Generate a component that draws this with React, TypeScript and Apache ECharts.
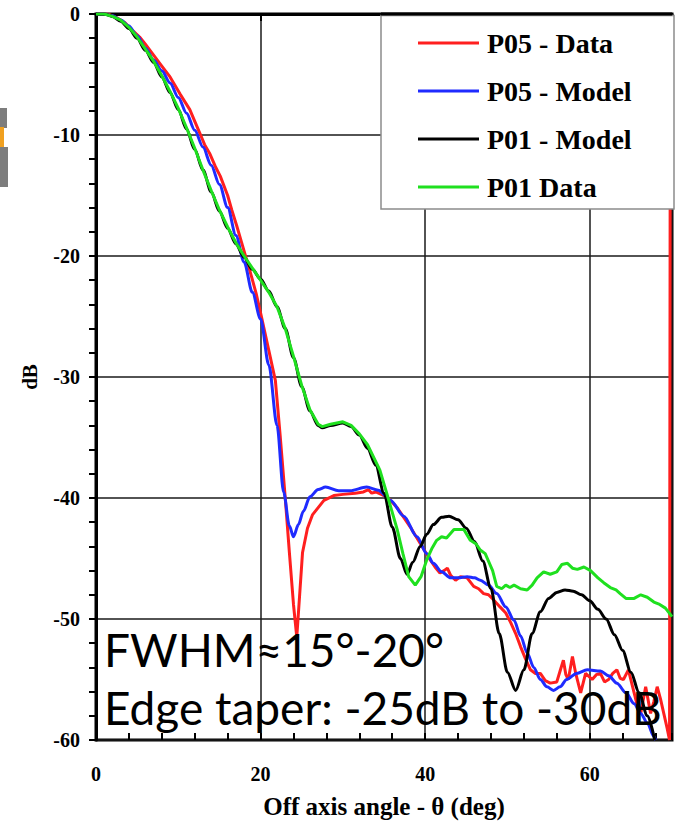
import React, { useEffect, useRef } from "react";
import * as echarts from "echarts";

// ---------- data (angle in deg, level in dB) ----------
const SERIES_NAMES = ["P05 - Data", "P05 - Model", "P01 - Model", "P01 Data"];
const SERIES_COLORS = ["#ff1f1f", "#1f2bff", "#000000", "#1fe01f"];

const P05_DATA: [number, number][] = [
  [0, 0], [1.5, 0], [2.5, -0.3], [3.5, -0.7], [4.5, -1.4], [5.3, -1.9], [6, -2.5], [7, -3.4], [8, -4.3],
  [9, -5.2], [10.2, -6.6], [11.4, -7.9], [12.65, -9.9], [13.2, -10.8], [13.8, -11.5], [14.5, -12.6],
  [15.1, -13.4], [16, -15.0], [16.5, -16.2], [17.1, -17.5], [17.7, -18.9], [18.3, -20.3], [18.9, -21.7],
  [19.5, -23.2], [20.1, -25.0], [21.0, -27.8], [21.8, -30.3], [22.4, -35.0], [23.0, -40.0], [23.5, -44.5],
  [24.0, -48.8], [24.4, -51.5], [24.8, -47.5], [25.1, -44.5], [25.7, -42.5], [26.3, -41.4], [27.0, -40.8],
  [27.7, -40.2], [28.9, -39.8], [30, -39.7], [31.5, -39.6], [32.5, -39.5], [33.1, -39.3], [33.5, -39.6],
  [34, -39.5], [35.0, -39.8], [35.8, -40.2], [36.6, -40.8], [37.4, -41.6], [38.2, -42.4], [39.0, -43.3],
  [39.8, -44.2], [40.5, -45.0], [41.2, -45.7], [41.8, -46.2], [42.3, -46.0], [42.7, -45.8], [43.1, -46.4],
  [43.7, -46.8], [44.3, -46.5], [45.1, -46.6], [45.9, -47.3], [46.5, -47.5], [47.1, -47.9], [47.7, -48.0],
  [48.3, -48.4], [49.1, -49.0], [49.8, -49.5], [50.4, -50.3], [51.0, -51.2], [51.6, -52.3], [52.2, -53.3],
  [52.8, -54.2], [53.4, -54.5], [54.0, -54.5], [54.6, -55.1], [55.2, -55.3], [56.0, -55.2], [56.4, -54.3],
  [56.8, -53.4], [57.1, -54.6], [57.4, -55.0], [57.9, -53.1], [58.3, -54.5], [58.9, -56.1], [59.5, -54.5],
  [60.3, -55.0], [60.8, -54.6], [61.3, -54.5], [61.8, -55.2], [62.3, -55.0], [62.8, -54.5], [63.3, -54.2],
  [63.7, -54.9], [64.1, -55.0], [64.7, -54.2], [65.4, -56.1], [65.8, -57.2], [66.2, -57.8], [66.8, -55.6],
  [67.4, -57.8], [67.8, -56.8], [68.2, -55.6], [68.6, -56.6], [69.0, -57.8], [69.4, -59.0], [69.7, -60],
  [69.8, 0],
];

const P05_MODEL: [number, number][] = [
  [0, 0], [1, 0], [2, -0.15], [3, -0.5], [4, -1.0], [5, -1.8], [6, -2.8], [7, -3.8], [8, -4.7], [9, -5.7],
  [10, -6.9], [11, -8.2], [12, -9.6], [13, -11.0], [14, -12.5], [15, -14.1], [16, -16.0], [17, -18.3],
  [18, -20.5], [19, -23.0], [20, -25.2], [21, -29.0], [22, -34.0], [22.8, -39.5], [23.5, -42.3], [24.0, -43.2],
  [24.6, -42.2], [25.2, -41.1], [26.0, -39.9], [27.0, -39.3], [27.9, -39.1], [29.5, -39.4], [30.9, -39.4],
  [32.9, -39.1], [34.3, -39.35], [35.8, -40.2], [37.4, -41.5], [39.0, -43.2], [40.2, -44.6], [41.0, -45.4],
  [42, -46.1], [43.1, -46.6], [44, -46.6], [45.1, -46.5], [46, -46.6], [46.7, -46.8], [47.7, -47.2],
  [48.7, -47.9], [49.8, -49.0], [50.8, -50.1], [51.6, -51.4], [52.4, -52.8], [53.2, -54.0], [54.0, -55.0],
  [54.8, -55.6], [55.6, -55.9], [56.4, -55.6], [57.2, -55.0], [58.4, -54.5], [59.7, -54.2], [61.3, -54.3],
  [62.3, -54.7], [63.3, -55.3], [64.4, -56.1], [65.4, -57.0], [66.2, -57.8], [67.0, -58.6], [67.8, -59.7],
  [68.0, -60],
];

const P01_MODEL: [number, number][] = [
  [0, 0], [1, 0], [2, -0.2], [3, -0.6], [4, -1.2], [5, -2.0], [6, -3.0], [7, -4.0], [8, -5.2], [9, -6.5],
  [10, -7.9], [11, -9.5], [12, -11.2], [13, -12.9], [14, -14.7], [15, -16.3], [16, -17.7], [17, -19.0],
  [18, -20.1], [19, -21.1], [20, -21.9], [21, -22.9], [22, -24.2], [23, -26.0], [24, -28.4], [25, -30.8],
  [26, -32.8], [27, -34.0], [27.5, -34.2], [28.5, -34.0], [30, -33.8], [31, -34.1], [32, -34.8], [33, -35.9],
  [34, -37.3], [35, -39.6], [36, -42.4], [37, -45.0], [37.8, -46.3], [38.5, -45.3], [39.4, -44.0],
  [40.2, -43.0], [41, -42.2], [42, -41.6], [42.9, -41.5], [44, -41.8], [45, -42.5], [46, -43.6], [47, -45.2],
  [48, -47.5], [49, -51.2], [50, -54.4], [51, -55.9], [52, -54.2], [53, -51.2], [54, -49.4], [55, -48.3],
  [56, -47.8], [57, -47.6], [58, -47.7], [59, -48.0], [60, -48.5], [61, -49.2], [62, -50.0], [63, -51.3],
  [64, -52.6], [65, -54.4], [66, -56.1], [67, -58.0], [67.9, -60],
];

const P01_DATA: [number, number][] = [
  [0, 0], [1, 0], [2, -0.2], [3, -0.5], [4, -1.1], [5, -1.9], [6, -2.9], [7, -3.9], [8, -5.1], [9, -6.4],
  [10, -7.8], [11, -9.4], [12, -11.1], [13, -12.9], [14, -14.6], [15, -16.2], [16, -17.6], [17, -18.9],
  [18, -20.0], [19, -21.0], [20, -22.0], [21, -23.0], [22, -24.2], [23, -26.0], [24, -28.3], [25, -30.7],
  [26, -32.7], [27, -33.9], [27.5, -34.1], [28.5, -33.9], [30, -33.7], [31, -34.0], [32, -34.7], [33, -35.6],
  [34, -37.0], [34.5, -37.7], [35.5, -40.0], [36.6, -42.6], [37.3, -44.6], [38, -46.5], [38.8, -47.2],
  [39.5, -46.5], [40.2, -45.1], [40.8, -44.2], [41.4, -43.5], [42, -43.2], [42.6, -43.3], [43.5, -42.6],
  [44.7, -42.6], [45.5, -43.5], [46.2, -43.8], [46.7, -44.3], [47.3, -44.6], [48.2, -46.0], [48.7, -47.3],
  [49.3, -47.5], [49.8, -47.2], [50.3, -47.4], [50.8, -47.2], [51.6, -47.5], [52.4, -47.6], [53.0, -47.2],
  [53.6, -46.6], [54.4, -46.1], [55.2, -46.3], [56, -46.1], [56.6, -45.5], [57.3, -45.4], [57.9, -45.8],
  [58.5, -45.9], [59.3, -45.7], [60.1, -46.0], [61, -46.6], [61.7, -47.0], [62.5, -47.4], [63.2, -47.6],
  [63.7, -47.9], [64.4, -48.3], [65.4, -48.3], [66.2, -48.0], [67, -48.2], [67.8, -48.6], [68.5, -48.8],
  [69.2, -49.1], [70, -49.8],
];

const SERIES_DATA = [P05_DATA, P05_MODEL, P01_MODEL, P01_DATA];
const SERIES_SMOOTH = [false, true, true, false];

const X_AXIS_TITLE = "Off axis angle - \u03b8 (deg)";
const Y_AXIS_TITLE = "dB";
const NOTE_LINES = ["FWHM\u224815\u00b0-20\u00b0", "Edge taper: -25dB to -30dB"];

const SERIF = "'Liberation Serif', 'Times New Roman', serif";
const NOTE_FONT = "46px Lato, 'Open Sans', sans-serif";

export default function App() {
  const ref = useRef<HTMLDivElement>(null);

  useEffect(() => {
    if (!ref.current) return;
    const chart = echarts.init(ref.current, undefined, { renderer: "svg" });

    const option: any = {
      animation: false,
      backgroundColor: "#ffffff",
      grid: {
        left: 96,
        top: 14,
        width: 576,
        height: 726,
        show: true,
        borderColor: "#000",
        borderWidth: 3,
        backgroundColor: "transparent",
      },
      xAxis: [
        {
          type: "value",
          min: 0,
          max: 70,
          interval: 20,
          name: X_AXIS_TITLE,
          nameLocation: "middle",
          nameGap: 54,
          nameTextStyle: { fontFamily: SERIF, fontWeight: "bold", fontSize: 25, color: "#000" },
          axisLine: { show: true, lineStyle: { color: "#000", width: 3 } },
          axisTick: { show: true, inside: false, length: 7, lineStyle: { color: "#000", width: 2 } },
          axisLabel: {
            show: true,
            margin: 24,
            showMaxLabel: false,
            fontFamily: SERIF,
            fontWeight: "bold",
            fontSize: 20,
            color: "#000",
          },
          splitLine: { show: true, lineStyle: { color: "#1a1a1a", width: 1.5 } },
        },
        {
          type: "value",
          min: 0,
          max: 70,
          interval: 4,
          position: "bottom",
          axisLine: { show: false },
          axisTick: { show: true, inside: true, length: 7, lineStyle: { color: "#000", width: 2 } },
          axisLabel: { show: false },
          splitLine: { show: false },
        },
      ],
      yAxis: {
        type: "value",
        min: -60,
        max: 0,
        interval: 10,
        name: Y_AXIS_TITLE,
        nameLocation: "middle",
        nameGap: 56,
        nameRotate: 90,
        nameTextStyle: { fontFamily: SERIF, fontWeight: "bold", fontSize: 21, color: "#000" },
        axisLine: { show: true, lineStyle: { color: "#000", width: 3 } },
        axisTick: { show: true, inside: false, length: 7, lineStyle: { color: "#000", width: 2 } },
        minorTick: { show: true, splitNumber: 5, length: 7, lineStyle: { color: "#000", width: 2 } },
        axisLabel: {
          margin: 16,
          fontFamily: SERIF,
          fontWeight: "bold",
          fontSize: 20,
          color: "#000",
        },
        splitLine: { show: true, lineStyle: { color: "#1a1a1a", width: 1.5 } },
      },
      legend: {
        data: SERIES_NAMES,
        orient: "vertical",
        left: 418,
        top: 29,
        padding: 0,
        icon: "rect",
        itemWidth: 61,
        itemHeight: 3,
        itemGap: 20,
        z: 20,
        textStyle: {
          fontFamily: SERIF,
          fontWeight: "bold",
          fontSize: 28,
          lineHeight: 28,
          color: "#000",
          padding: [0, 0, 0, 3],
        },
      },
      graphic: [
        {
          type: "rect",
          z: 15,
          shape: { x: 381, y: 15.5, width: 293, height: 193.5 },
          style: { fill: "#ffffff", stroke: "#8c8c8c", lineWidth: 1.5 },
        },
        {
          type: "line",
          z: 16,
          shape: { x1: 381, y1: 14, x2: 672, y2: 14 },
          style: { stroke: "#000", lineWidth: 3 },
        },
        { type: "rect", z: 15, shape: { x: 0, y: 108, width: 7, height: 20 }, style: { fill: "#7d7d7d" } },
        { type: "rect", z: 15, shape: { x: 0, y: 127, width: 4, height: 20 }, style: { fill: "#f0a020" } },
        { type: "rect", z: 15, shape: { x: 0, y: 147, width: 8, height: 40 }, style: { fill: "#7d7d7d" } },
        {
          type: "text",
          z: 30,
          x: 104,
          y: 649,
          style: { text: NOTE_LINES[0], font: NOTE_FONT, fill: "#000", verticalAlign: "middle", align: "left" },
        },
        {
          type: "text",
          z: 30,
          x: 104,
          y: 707,
          style: { text: NOTE_LINES[1], font: NOTE_FONT, fill: "#000", verticalAlign: "middle", align: "left" },
        },
      ],
      series: SERIES_NAMES.map((name, i) => ({
        name,
        type: "line",
        xAxisIndex: 0,
        data: SERIES_DATA[i],
        symbol: "none",
        smooth: SERIES_SMOOTH[i] ? 0.3 : false,
        smoothMonotone: "x",
        clip: true,
        z: 2 + i,
        lineStyle: { color: SERIES_COLORS[i], width: 3 },
        itemStyle: { color: SERIES_COLORS[i] },
      })),
    };

    chart.setOption(option);
    return () => chart.dispose();
  }, []);

  return <div ref={ref} style={{ width: 683, height: 824, position: "absolute", left: 0, top: 0 }} />;
}
